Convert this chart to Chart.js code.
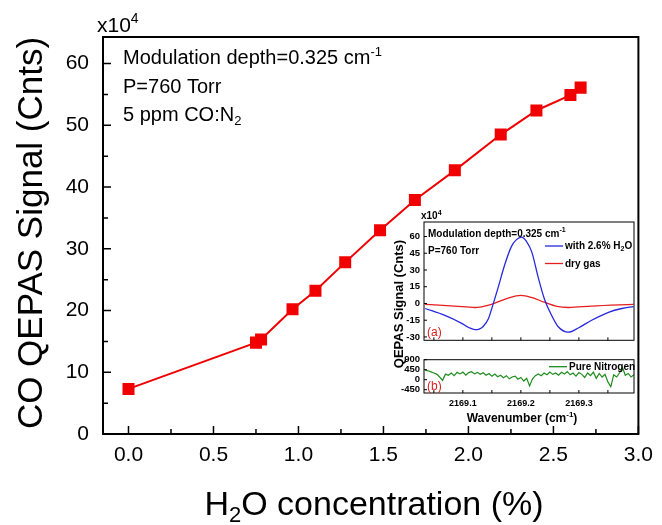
<!DOCTYPE html>
<html lang="en">
<head>
  <meta charset="UTF-8">
  <title>CO QEPAS signal vs H2O concentration</title>
  <script src="https://cdn.jsdelivr.net/npm/chart.js"></script>
  <style>
    body { margin: 0; background: #fff; }
    #wrap { position: relative; width: 662px; height: 525px; }
    canvas { position: absolute; }
  </style>
</head>
<body>
  <div id="wrap">
    <canvas id="main" width="662" height="525" style="left:0;top:0"></canvas>
    <canvas id="insetA" width="260" height="150" style="left:380px;top:200px"></canvas>
    <canvas id="insetB" width="260" height="80" style="left:380px;top:350px"></canvas>
  </div>

  <script>
    // main plot: H2O concentration (%) vs CO QEPAS signal (x10^4 counts)
    const concentration = [0, 0.75, 0.78, 0.965, 1.10, 1.275, 1.48, 1.685, 1.92, 2.19, 2.40, 2.60, 2.66];
    const coSignal = [7.3, 14.8, 15.3, 20.2, 23.2, 27.8, 33.0, 37.9, 42.7, 48.5, 52.4, 54.9, 56.1];
    const xTicks = [0, 0.5, 1.0, 1.5, 2.0, 2.5, 3.0];
    const xMinorTicks = [0.25, 0.75, 1.25, 1.75, 2.25, 2.75];
    const yTicks = [0, 10, 20, 30, 40, 50, 60];
    const yMinorTicks = [5, 15, 25, 35, 45, 55];

    // inset (a): spectra with 2.6% H2O and dry gas (x10^4 counts)
    const wetWavenumber = [2169.035, 2169.069, 2169.098, 2169.110, 2169.121, 2169.128, 2169.135, 2169.144, 2169.152, 2169.161,
      2169.172, 2169.184, 2169.192, 2169.201, 2169.209, 2169.219, 2169.230, 2169.241, 2169.253, 2169.264,
      2169.282, 2169.299, 2169.322, 2169.351, 2169.374, 2169.394];
    const wetSignal = [-4.5, -10.7, -17.8, -21.5, -23.5, -23, -20.6, -13.6, -0.8, 14.7,
      34.5, 51.4, 57, 59.5, 56, 45.8, 23.1, 3.4, -10.7, -20.6,
      -25.7, -22, -15, -7.9, -4.5, -2.8];
    const dryWavenumber = [2169.035, 2169.086, 2169.121, 2169.149, 2169.178, 2169.200, 2169.218, 2169.240, 2169.262, 2169.282, 2169.322, 2169.394];
    const drySignal = [-0.8, -2.3, -3.6, -0.8, 4.8, 7.2, 5.4, 1.2, -2.6, -3.6, -2.3, -0.8];
    const insetATicks = [-30, -15, 0, 15, 30, 45, 60];

    // inset (b): pure nitrogen background, sampled every 0.005 cm-1
    const nitrogenStart = 2169.035;
    const nitrogenStep = 0.005;
    const nitrogenSignal = [430, 400, 350, 300, 250, 120, -30, 250, 200, 300,
      180, 330, 260, 340, 200, 320, 360, 260, 330, 240,
      310, 200, 280, 160, 250, 130, 200, 90, 180, 40,
      120, 160, 20, 100, -60, 60, -280, 40, 180, 260,
      180, 300, 220, 340, 240, 300, 200, 330, 250, 360,
      220, 300, 160, 320, 240, 100, 300, 180, 340, 60,
      280, 120, 240, -100, -320, 220, 120, 300, 560, 200,
      280, 120, 220];
    const insetBTicks = [-450, 0, 450, 900];
    const wavenumberTicks = [2169.1, 2169.2, 2169.3];
    const wavenumberMinor = [2169.05, 2169.1, 2169.15, 2169.2, 2169.25, 2169.3, 2169.35];

    const FAMILY = '"Liberation Sans", Arial, sans-serif';
    const RED = 'rgb(240,0,0)';
    Chart.defaults.font.family = FAMILY;
    Chart.defaults.color = '#000';

    // text with super/subscripts; parts are strings or [text, 'sup'|'sub']
    function richText(ctx, parts, x, y, size, bold, align, color) {
      const weight = bold ? 'bold ' : '';
      const small = Math.round(size * 0.65);
      let total = 0;
      const segs = parts.map(p => {
        const [t, m] = Array.isArray(p) ? p : [p, ''];
        const fs = m ? small : size;
        ctx.font = weight + fs + 'px ' + FAMILY;
        const w = ctx.measureText(t).width;
        total += w;
        return { t, m, fs, w };
      });
      let cx = align === 'center' ? x - total / 2 : x;
      ctx.fillStyle = color || '#000';
      ctx.textAlign = 'left';
      ctx.textBaseline = 'alphabetic';
      segs.forEach(s => {
        ctx.font = weight + s.fs + 'px ' + FAMILY;
        const dy = s.m === 'sup' ? -size * 0.42 : s.m === 'sub' ? size * 0.22 : 0;
        ctx.fillText(s.t, cx, y + dy);
        cx += s.w;
      });
    }

    function inwardTicks(ctx, chart, xs, ys, major, minor, xMinor, yMinor) {
      const a = chart.chartArea;
      const sx = chart.scales.x, sy = chart.scales.y;
      ctx.beginPath();
      xs.forEach(v => { const p = sx.getPixelForValue(v); ctx.moveTo(p, a.bottom); ctx.lineTo(p, a.bottom - major); });
      (xMinor || []).forEach(v => { const p = sx.getPixelForValue(v); ctx.moveTo(p, a.bottom); ctx.lineTo(p, a.bottom - minor); });
      ys.forEach(v => { const p = sy.getPixelForValue(v); ctx.moveTo(a.left, p); ctx.lineTo(a.left + major, p); });
      (yMinor || []).forEach(v => { const p = sy.getPixelForValue(v); ctx.moveTo(a.left, p); ctx.lineTo(a.left + minor, p); });
      ctx.stroke();
    }

    const mainDeco = {
      id: 'mainDeco',
      afterDraw(chart) {
        const { ctx, chartArea: a } = chart;
        ctx.save();
        ctx.strokeStyle = '#000';
        ctx.lineWidth = 2;
        ctx.strokeRect(a.left, a.top, a.right - a.left, a.bottom - a.top);
        ctx.lineWidth = 1.5;
        inwardTicks(ctx, chart, xTicks, yTicks, 8, 5, xMinorTicks, yMinorTicks);

        richText(ctx, ['x10', ['4', 'sup']], 97, 32, 21, false);
        richText(ctx, ['Modulation depth=0.325 cm', ['-1', 'sup']], 123, 64, 20, false);
        richText(ctx, ['P=760 Torr'], 123, 93, 20, false);
        richText(ctx, ['5 ppm CO:N', ['2', 'sub']], 123, 121, 20, false);

        richText(ctx, ['H', ['2', 'sub'], 'O concentration (%)'], 374, 515, 34, false, 'center');

        ctx.save();
        ctx.translate(30, 233);
        ctx.rotate(-Math.PI / 2);
        richText(ctx, ['CO QEPAS Signal (Cnts)'], 0, 12, 35, false, 'center');
        ctx.restore();

        // shared y title of the inset
        ctx.save();
        ctx.translate(398, 304);
        ctx.rotate(-Math.PI / 2);
        richText(ctx, ['QEPAS Signal (Cnts)'], 0, 4.5, 13, true, 'center');
        ctx.restore();
        ctx.restore();
      }
    };

    new Chart(document.getElementById('main'), {
      type: 'line',
      data: {
        datasets: [{
          data: concentration.map((c, i) => ({ x: c, y: coSignal[i] })),
          borderColor: RED,
          backgroundColor: RED,
          borderWidth: 2,
          pointStyle: 'rect',
          pointRadius: 8.5,
          pointBorderWidth: 0,
          tension: 0
        }]
      },
      options: {
        responsive: false,
        animation: false,
        devicePixelRatio: 1,
        layout: { padding: { top: 37, right: 19, left: 0, bottom: 0 } },
        plugins: { legend: { display: false }, tooltip: { enabled: false } },
        scales: {
          x: {
            type: 'linear', min: -0.15, max: 3.0,
            afterBuildTicks: s => { s.ticks = xTicks.map(v => ({ value: v })); },
            afterFit: s => { s.height = 91; },
            grid: { display: false, drawTicks: false },
            border: { display: false },
            ticks: { font: { size: 21 }, padding: 9, autoSkip: false, maxRotation: 0, callback: v => v.toFixed(1) }
          },
          y: {
            min: 0, max: 64.3,
            afterBuildTicks: s => { s.ticks = yTicks.map(v => ({ value: v })); },
            afterFit: s => { s.width = 103; },
            grid: { display: false, drawTicks: false },
            border: { display: false },
            ticks: { font: { size: 21 }, padding: 14, autoSkip: false }
          }
        }
      },
      plugins: [mainDeco]
    });

    const insetADeco = {
      id: 'insetADeco',
      afterDraw(chart) {
        const { ctx, chartArea: a } = chart;
        ctx.save();
        ctx.strokeStyle = '#000';
        ctx.lineWidth = 1;
        ctx.strokeRect(a.left, a.top, a.right - a.left, a.bottom - a.top);
        inwardTicks(ctx, chart, wavenumberMinor, insetATicks, 3, 3);

        richText(ctx, ['x10', ['4', 'sup']], a.left - 3, a.top - 3, 10, true);
        richText(ctx, ['Modulation depth=0.325 cm', ['-1', 'sup']], a.left + 4, a.top + 14.5, 10, true);
        richText(ctx, ['P=760 Torr'], a.left + 4, a.top + 32, 10, true);

        ctx.lineWidth = 1.3;
        ctx.strokeStyle = 'rgb(40,40,220)';
        ctx.beginPath(); ctx.moveTo(a.left + 121, a.top + 24); ctx.lineTo(a.left + 139, a.top + 24); ctx.stroke();
        richText(ctx, ['with 2.6% H', ['2', 'sub'], 'O'], a.left + 141, a.top + 27, 10, true);
        ctx.strokeStyle = 'rgb(230,30,30)';
        ctx.beginPath(); ctx.moveTo(a.left + 121, a.top + 41.5); ctx.lineTo(a.left + 139, a.top + 41.5); ctx.stroke();
        richText(ctx, ['dry gas'], a.left + 141, a.top + 44.5, 10, true);

        richText(ctx, ['(a)'], a.left + 3, a.bottom - 4, 12, false, 'left', 'rgb(220,30,30)');
        ctx.restore();
      }
    };

    new Chart(document.getElementById('insetA'), {
      type: 'line',
      data: {
        datasets: [
          {
            data: wetWavenumber.map((w, i) => ({ x: w, y: wetSignal[i] })),
            borderColor: 'rgb(40,40,220)', borderWidth: 1.3, pointRadius: 0,
            cubicInterpolationMode: 'monotone'
          },
          {
            data: dryWavenumber.map((w, i) => ({ x: w, y: drySignal[i] })),
            borderColor: 'rgb(230,30,30)', borderWidth: 1.3, pointRadius: 0,
            cubicInterpolationMode: 'monotone'
          }
        ]
      },
      options: {
        responsive: false,
        animation: false,
        devicePixelRatio: 1,
        layout: { padding: { top: 22, right: 6, left: 0, bottom: 0 } },
        plugins: { legend: { display: false }, tooltip: { enabled: false } },
        scales: {
          x: {
            type: 'linear', min: 2169.033, max: 2169.395,
            afterFit: s => { s.height = 2; },
            grid: { display: false, drawTicks: false },
            border: { display: false },
            ticks: { display: false }
          },
          y: {
            min: -33, max: 73,
            afterBuildTicks: s => { s.ticks = insetATicks.map(v => ({ value: v })); },
            afterFit: s => { s.width = 44; },
            grid: { display: false, drawTicks: false },
            border: { display: false },
            ticks: { font: { size: 9.5, weight: 'bold' }, padding: 4, autoSkip: false }
          }
        }
      },
      plugins: [insetADeco]
    });

    const insetBDeco = {
      id: 'insetBDeco',
      afterDraw(chart) {
        const { ctx, chartArea: a } = chart;
        ctx.save();
        ctx.strokeStyle = '#000';
        ctx.lineWidth = 1;
        ctx.strokeRect(a.left, a.top, a.right - a.left, a.bottom - a.top);
        inwardTicks(ctx, chart, wavenumberMinor, insetBTicks, 3, 3);

        ctx.lineWidth = 1.3;
        ctx.strokeStyle = 'rgb(30,140,30)';
        ctx.beginPath(); ctx.moveTo(a.left + 125, a.top + 7); ctx.lineTo(a.left + 143, a.top + 7); ctx.stroke();
        richText(ctx, ['Pure Nitrogen'], a.left + 145, a.top + 10, 10, true);

        richText(ctx, ['(b)'], a.left + 3, a.bottom - 3, 12, false, 'left', 'rgb(220,30,30)');
        richText(ctx, ['Wavenumber (cm', ['-1', 'sup'], ')'], a.left + 98, a.bottom + 29, 12, true, 'center');
        ctx.restore();
      }
    };

    new Chart(document.getElementById('insetB'), {
      type: 'line',
      data: {
        datasets: [{
          data: nitrogenSignal.map((v, i) => ({ x: nitrogenStart + nitrogenStep * i, y: v })),
          borderColor: 'rgb(30,140,30)', borderWidth: 1.2, pointRadius: 0, tension: 0
        }]
      },
      options: {
        responsive: false,
        animation: false,
        devicePixelRatio: 1,
        layout: { padding: { top: 8, right: 6, left: 0, bottom: 0 } },
        plugins: { legend: { display: false }, tooltip: { enabled: false } },
        scales: {
          x: {
            type: 'linear', min: 2169.033, max: 2169.395,
            afterBuildTicks: s => { s.ticks = wavenumberTicks.map(v => ({ value: v })); },
            afterFit: s => { s.height = 37; },
            grid: { display: false, drawTicks: false },
            border: { display: false },
            ticks: { font: { size: 9, weight: 'bold' }, padding: 5, autoSkip: false, maxRotation: 0, callback: v => v.toFixed(1) }
          },
          y: {
            min: -600, max: 900,
            afterBuildTicks: s => { s.ticks = insetBTicks.map(v => ({ value: v })); },
            afterFit: s => { s.width = 44; },
            grid: { display: false, drawTicks: false },
            border: { display: false },
            ticks: { font: { size: 9.5, weight: 'bold' }, padding: 4, autoSkip: false }
          }
        }
      },
      plugins: [insetBDeco]
    });
  </script>
</body>
</html>
